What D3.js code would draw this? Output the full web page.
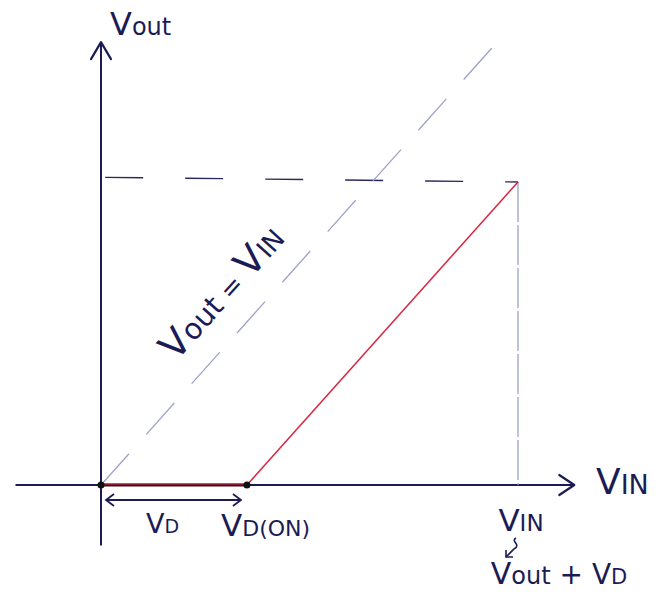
<!DOCTYPE html>
<html>
<head>
<meta charset="utf-8">
<script src="https://cdn.jsdelivr.net/npm/d3@7"></script>
<style>
  html, body { margin: 0; padding: 0; background: #fff; }
  svg { display: block; }
  text { font-family: "DejaVu Sans", sans-serif; fill: #1c1c55; }
</style>
</head>
<body>
<svg id="chart" width="660" height="595"></svg>
<script>
// Diode transfer characteristic: Vout against VIN for a series diode
const vdOn = 0.7;                 // diode forward drop VD(ON)
const vinMax = 2.0;               // largest input drawn
const vinPoints = [0, vdOn, vinMax];
const voutPoints = [0, 0, vinMax - vdOn];   // Vout = VIN - VD once the diode conducts
const idealIn = [0, 1.92];        // reference line Vout = VIN
const xAxisExtent = [-0.41, 2.27];
const yAxisExtent = [-0.26, 1.9];

const svg = d3.select("#chart");
const ink = "#1c1c55";
const red = "#d8253f";
const faint = "#9ea2c9";

const x = d3.scaleLinear().domain([0, vinMax]).range([101, 518]);
const y = d3.scaleLinear().domain([0, vinMax - vdOn]).range([485, 182]);

const line = d3.line().x(d => x(d[0])).y(d => y(d[1]));

// axes
svg.append("path")
  .attr("d", line([[xAxisExtent[0], 0], [xAxisExtent[1], 0]]))
  .attr("stroke", ink).attr("stroke-width", 2).attr("fill", "none");
svg.append("path")
  .attr("d", line([[0, yAxisExtent[0]], [0, yAxisExtent[1]]]))
  .attr("stroke", ink).attr("stroke-width", 2).attr("fill", "none");

// arrow heads
const xe = x(xAxisExtent[1]), ye = y(0);
svg.append("path")
  .attr("d", `M${xe - 15},${ye - 10} L${xe},${ye} L${xe - 15},${ye + 10}`)
  .attr("stroke", ink).attr("stroke-width", 2.2).attr("fill", "none")
  .attr("stroke-linecap", "round").attr("stroke-linejoin", "round");
const yx = x(0), yt = y(yAxisExtent[1]);
svg.append("path")
  .attr("d", `M${yx - 10},${yt + 17} L${yx},${yt} L${yx + 10},${yt + 17}`)
  .attr("stroke", ink).attr("stroke-width", 2.2).attr("fill", "none")
  .attr("stroke-linecap", "round").attr("stroke-linejoin", "round");

// guide lines to the top corner
const corner = [vinMax, vinMax - vdOn];
svg.append("path")
  .attr("d", line([[0.02, corner[1] + 0.02], corner]))
  .attr("stroke", "#2a2a5a").attr("stroke-width", 1.4).attr("fill", "none")
  .attr("stroke-dasharray", "38,42");
svg.append("path")
  .attr("d", line([corner, [vinMax, 0]]))
  .attr("stroke", faint).attr("stroke-width", 1.3).attr("fill", "none")
  .attr("stroke-dasharray", "40,3");

// Vout = VIN reference line
svg.append("path")
  .attr("d", line(idealIn.map(v => [v, v])))
  .attr("stroke", faint).attr("stroke-width", 1.3).attr("fill", "none")
  .attr("stroke-dasharray", "42,26");

// output characteristic
const curve = vinPoints.map((v, i) => [v, voutPoints[i]]);
svg.append("path")
  .attr("d", line(curve.slice(0, 2)))
  .attr("stroke", "#3a1020").attr("stroke-width", 3.2).attr("fill", "none");
svg.append("path")
  .attr("d", line(curve.slice(0, 2)))
  .attr("stroke", red).attr("stroke-width", 1.2).attr("fill", "none")
  .attr("transform", "translate(0,-1)");
svg.append("path")
  .attr("d", line(curve.slice(1)))
  .attr("stroke", red).attr("stroke-width", 1.5).attr("fill", "none");

svg.selectAll("circle.pt").data(curve.slice(0, 2)).join("circle")
  .attr("class", "pt")
  .attr("cx", d => x(d[0])).attr("cy", d => y(d[1])).attr("r", 3.5)
  .attr("fill", "#111");

// VD span arrow
const ya = y(0) + 15;
svg.append("path")
  .attr("d", `M${x(0) + 5},${ya} L${x(vdOn) - 6},${ya}`)
  .attr("stroke", ink).attr("stroke-width", 1.8).attr("fill", "none");
svg.append("path")
  .attr("d", `M${x(0) + 13},${ya - 6} L${x(0) + 5},${ya} L${x(0) + 13},${ya + 6}`)
  .attr("stroke", ink).attr("stroke-width", 1.8).attr("fill", "none");
svg.append("path")
  .attr("d", `M${x(vdOn) - 14},${ya - 6} L${x(vdOn) - 6},${ya} L${x(vdOn) - 14},${ya + 6}`)
  .attr("stroke", ink).attr("stroke-width", 1.8).attr("fill", "none");

// labels
function label(px, py, parts, opts = {}) {
  const t = svg.append("text").attr("x", px).attr("y", py);
  if (opts.anchor) t.attr("text-anchor", opts.anchor);
  if (opts.rotate) t.attr("transform", `rotate(${opts.rotate},${px},${py})`);
  parts.forEach(([s, size]) => t.append("tspan").text(s).attr("font-size", size));
  return t;
}

label(110, 35, [["V", 32], ["out", 24]]);
label(596, 494, [["V", 36], ["IN", 27]]);
label(146, 533, [["V", 27], ["D", 19]]);
label(221, 536, [["V", 31], ["D(ON)", 22]]);
label(x(vinMax) + 3, 531, [["V", 31], ["IN", 23]], { anchor: "middle" });
label(559, 584, [["V", 30], ["out", 24], [" + V", 28], ["D", 21]], { anchor: "middle" });
label(176, 362, [["V", 38], ["out", 29], [" = ", 26], ["V", 38], ["IN", 26]], { rotate: -48 });

// squiggle arrow from VIN to Vout + VD
svg.append("path")
  .attr("d", "M516,538 C510,541 522,545 514,549 L506,557")
  .attr("stroke", ink).attr("stroke-width", 1.6).attr("fill", "none");
svg.append("path")
  .attr("d", "M506,550 L506,557 L513,557")
  .attr("stroke", ink).attr("stroke-width", 1.6).attr("fill", "none");
</script>
</body>
</html>
